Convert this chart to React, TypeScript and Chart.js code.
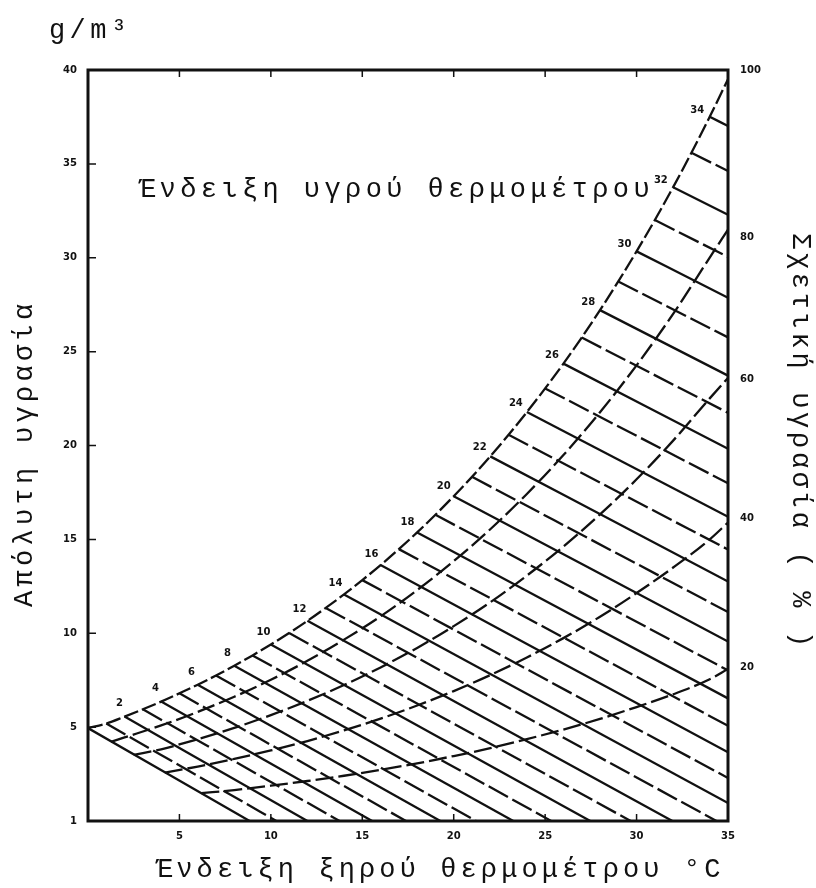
import React, { useEffect, useRef } from "react";
import { Chart, registerables } from "chart.js";

Chart.register(...registerables);

// ---- axis tick labels ----
const xTickLabels = ["", "5", "10", "15", "20", "25", "30", "35"];
const yTickLabels = ["1", "5", "10", "15", "20", "25", "30", "35", "40"];
const rhTickValues = [8.2, 16.1, 23.5, 31.1, 40];
const rhTickLabels = ["20", "40", "60", "80", "100"];

// ---- saturation (100 %) curve: dry-bulb °C -> g/m3 ----
const satTemps = [0, 1, 2, 3, 4, 5, 6, 7, 8, 9, 10, 11, 12, 13, 14, 15, 16, 17, 18, 19, 20, 21, 22, 23, 24, 25, 26, 27, 28, 29, 30, 31, 32, 33, 34, 35];
const satValues = [4.95, 5.19, 5.56, 5.95, 6.36, 6.8, 7.26, 7.75, 8.27, 8.82, 9.4, 10.01, 10.66, 11.35, 12.07, 12.83, 13.63, 14.48, 15.37, 16.31, 17.3, 18.33, 19.42, 20.57, 21.78, 23.04, 24.36, 25.75, 27.21, 28.74, 30.34, 32.01, 33.76, 35.59, 37.51, 39.51];

// ---- relative humidity curves ----
const rh80Temps = [1.25, 2, 4, 6, 8, 10, 12, 14, 16, 18, 20, 22, 24, 26, 28, 30, 32, 34, 35];
const rh80Values = [4.21, 4.45, 5.09, 5.81, 6.62, 7.52, 8.53, 9.66, 10.9, 12.3, 13.84, 15.54, 17.42, 19.49, 21.77, 24.27, 27.01, 30.01, 31.5];
const rh60Temps = [2.5, 4, 6, 8, 10, 12, 14, 16, 18, 20, 22, 24, 26, 28, 30, 32, 34, 35];
const rh60Values = [3.52, 3.82, 4.36, 4.96, 5.64, 6.4, 7.24, 8.18, 9.22, 10.38, 11.65, 13.07, 14.62, 16.33, 18.2, 20.26, 22.51, 23.6];
const rh40Temps = [4.2, 6, 8, 10, 12, 14, 16, 18, 20, 22, 24, 26, 28, 30, 32, 34, 35];
const rh40Values = [2.58, 2.9, 3.31, 3.76, 4.26, 4.83, 5.45, 6.15, 6.92, 7.77, 8.71, 9.74, 10.88, 12.14, 13.5, 15.0, 15.9];
const rh20Temps = [6.2, 8, 10, 12, 14, 16, 18, 20, 22, 24, 26, 28, 30, 32, 34, 35];
const rh20Values = [1.48, 1.65, 1.88, 2.13, 2.41, 2.73, 3.07, 3.46, 3.88, 4.36, 4.87, 5.44, 6.07, 6.75, 7.55, 8.1];

// ---- wet-bulb lines: start on saturation curve, end on bottom / right axis ----
const wetBulbTemps = [0, 1, 2, 3, 4, 5, 6, 7, 8, 9, 10, 11, 12, 13, 14, 15, 16, 17, 18, 19, 20, 21, 22, 23, 24, 25, 26, 27, 28, 29, 30, 31, 32, 33, 34];
const wetBulbStartValues = [4.95, 5.19, 5.56, 5.95, 6.36, 6.8, 7.26, 7.75, 8.27, 8.82, 9.4, 10.01, 10.66, 11.35, 12.07, 12.83, 13.63, 14.48, 15.37, 16.31, 17.3, 18.33, 19.42, 20.57, 21.78, 23.04, 24.36, 25.75, 27.21, 28.74, 30.34, 32.01, 33.76, 35.59, 37.51];
const wetBulbEndTemps = [8.84, 10.3, 12.0, 13.76, 15.54, 17.39, 19.27, 21.22, 23.26, 25.33, 27.47, 29.68, 31.96, 34.37, 35, 35, 35, 35, 35, 35, 35, 35, 35, 35, 35, 35, 35, 35, 35, 35, 35, 35, 35, 35, 35];
const wetBulbEndValues = [0, 0, 0, 0, 0, 0, 0, 0, 0, 0, 0, 0, 0, 0, 0.96, 2.29, 3.66, 5.07, 6.53, 8.02, 9.56, 11.13, 12.76, 14.46, 16.2, 17.99, 19.83, 21.74, 23.72, 25.76, 27.87, 30.04, 32.29, 34.62, 37.02];
const wetBulbLabelTemps = [2, 4, 6, 8, 10, 12, 14, 16, 18, 20, 22, 24, 26, 28, 30, 32, 34];
const wetBulbLabels = ["2", "4", "6", "8", "10", "12", "14", "16", "18", "20", "22", "24", "26", "28", "30", "32", "34"];

const INK = "#111111";
const MONO = "'Liberation Mono', 'DejaVu Sans Mono', monospace";

const curve = (xs: number[], ys: number[], dash: number[]) => ({
  data: xs.map((x, i) => ({ x, y: ys[i] })),
  showLine: true,
  borderColor: INK,
  borderWidth: 2.3,
  borderDash: dash,
  pointRadius: 0,
  fill: false,
  cubicInterpolationMode: "monotone",
});

const decorPlugin = {
  id: "decor",
  afterDraw(chart: any) {
    const { ctx, chartArea: a, scales } = chart;
    const xs = scales.x;
    const ys = scales.y;
    ctx.save();
    ctx.strokeStyle = INK;
    ctx.fillStyle = INK;
    // frame
    ctx.lineWidth = 3;
    ctx.strokeRect(a.left, a.top, a.right - a.left, a.bottom - a.top);
    // inward tick marks
    ctx.lineWidth = 1.5;
    ctx.beginPath();
    xs.ticks.forEach((t: any) => {
      if (t.value <= xs.min || t.value >= xs.max) return;
      const px = xs.getPixelForValue(t.value);
      ctx.moveTo(px, a.bottom);
      ctx.lineTo(px, a.bottom - 7);
      ctx.moveTo(px, a.top);
      ctx.lineTo(px, a.top + 7);
    });
    ys.ticks.forEach((t: any) => {
      if (t.value <= ys.min || t.value >= ys.max) return;
      const py = ys.getPixelForValue(t.value);
      ctx.moveTo(a.left, py);
      ctx.lineTo(a.left + 8, py);
    });
    ctx.stroke();

    // wet-bulb labels along the saturation curve
    ctx.font = "bold 10px 'DejaVu Sans', sans-serif";
    ctx.textAlign = "center";
    ctx.textBaseline = "middle";
    wetBulbLabelTemps.forEach((t, i) => {
      const k = satTemps.indexOf(t);
      const k0 = Math.max(0, k - 1);
      const k1 = Math.min(satTemps.length - 1, k + 1);
      const x0 = xs.getPixelForValue(satTemps[k0]);
      const y0 = ys.getPixelForValue(satValues[k0]);
      const x1 = xs.getPixelForValue(satTemps[k1]);
      const y1 = ys.getPixelForValue(satValues[k1]);
      const tx = x1 - x0;
      const ty = y1 - y0;
      const len = Math.hypot(tx, ty) || 1;
      // normal pointing up-left
      const nx = ty / len;
      const ny = -tx / len;
      const px = xs.getPixelForValue(t) + nx * 14;
      const py = ys.getPixelForValue(satValues[k]) + ny * 14;
      ctx.fillText(wetBulbLabels[i], px, py);
    });

    // texts
    const spaced = (text: string, x: number, y: number, rot: number, ls: number) => {
      ctx.save();
      ctx.translate(x, y);
      ctx.rotate(rot);
      (ctx as any).letterSpacing = ls + "px";
      ctx.textAlign = "left";
      ctx.textBaseline = "alphabetic";
      ctx.fillText(text, 0, 0);
      ctx.restore();
    };
    ctx.font = "27px " + MONO;
    spaced("g/m³", 49, 38, 0, 4.4);
    spaced("Ένδειξη υγρού θερμομέτρου", 139, 197, 0, 4.4);
    spaced("Ένδειξη ξηρού θερμομέτρου °C", 156, 877, 0, 4.1);
    spaced("Απόλυτη υγρασία", 32, 607, -Math.PI / 2, 4.3);
    spaced("Σχετική υγρασία ( % )", 793, 233, Math.PI / 2, 3.7);
    ctx.restore();
  },
};

export default function App() {
  const ref = useRef<HTMLCanvasElement | null>(null);
  useEffect(() => {
    const canvas = ref.current;
    if (!canvas) return;
    const datasets: any[] = [];
    datasets.push(curve(satTemps, satValues, [15, 4]));
    datasets.push(curve(rh80Temps, rh80Values, [18, 5]));
    datasets.push(curve(rh60Temps, rh60Values, [18, 5]));
    datasets.push(curve(rh40Temps, rh40Values, [18, 5]));
    datasets.push(curve(rh20Temps, rh20Values, [18, 5]));
    wetBulbTemps.forEach((t, i) => {
      datasets.push(
        curve(
          [t, wetBulbEndTemps[i]],
          [wetBulbStartValues[i], wetBulbEndValues[i]],
          t % 2 === 1 ? [22, 5] : []
        )
      );
    });
    const tickFont = { family: "'DejaVu Sans', sans-serif", size: 10, weight: "bold" as const };
    const chart = new Chart(canvas, {
      type: "scatter",
      data: { datasets },
      options: {
        animation: false,
        responsive: false,
        devicePixelRatio: 1,
        events: [],
        layout: { padding: { left: 48, right: 38, top: 70, bottom: 37 } },
        plugins: { legend: { display: false }, tooltip: { enabled: false }, title: { display: false } },
        scales: {
          x: {
            type: "linear",
            min: 0,
            max: 35,
            grid: { display: false, drawTicks: false },
            border: { display: false },
            ticks: {
              stepSize: 5,
              padding: 9,
              color: INK,
              font: tickFont,
              maxRotation: 0,
              autoSkip: false,
              callback: (_v: any, i: number) => xTickLabels[i] ?? "",
            },
            afterFit: (s: any) => {
              s.height = 30;
            },
          },
          y: {
            type: "linear",
            position: "left",
            min: 0,
            max: 40,
            grid: { display: false, drawTicks: false },
            border: { display: false },
            ticks: {
              stepSize: 5,
              padding: 11,
              color: INK,
              font: tickFont,
              autoSkip: false,
              callback: (_v: any, i: number) => yTickLabels[i] ?? "",
            },
            afterFit: (s: any) => {
              s.width = 40;
            },
          },
          y2: {
            type: "linear",
            position: "right",
            min: 0,
            max: 40,
            grid: { display: false, drawTicks: false },
            border: { display: false },
            afterBuildTicks: (s: any) => {
              s.ticks = rhTickValues.map((v) => ({ value: v }));
            },
            ticks: {
              padding: 12,
              color: INK,
              font: tickFont,
              autoSkip: false,
              callback: (_v: any, i: number) => rhTickLabels[i] ?? "",
            },
            afterFit: (s: any) => {
              s.width = 50;
            },
          },
        },
      } as any,
      plugins: [decorPlugin],
    });
    return () => chart.destroy();
  }, []);
  return (
    <div style={{ position: "fixed", left: 0, top: 0, width: 816, height: 888, background: "#ffffff" }}>
      <canvas ref={ref} width={816} height={888} style={{ display: "block", width: 816, height: 888 }} />
    </div>
  );
}
